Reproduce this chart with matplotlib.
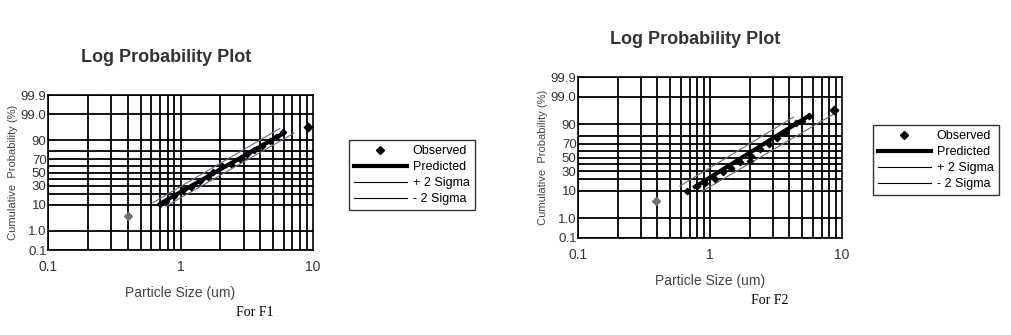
import numpy as np
import matplotlib.pyplot as plt
from statistics import NormalDist
from matplotlib.lines import Line2D

# ---- data (particle size in um, cumulative %) ----
f1_obs_x = [0.70, 0.78, 0.90, 1.05, 1.20, 1.40, 1.60, 1.75, 2.05, 2.40, 2.80, 3.20, 3.60, 4.10, 4.70, 5.30, 5.90]
f1_obs_y = [10.5, 12.5, 17.0, 24.0, 28.5, 36.0, 43.0, 51.0, 60.0, 64.0, 71.0, 77.0, 81.0, 85.5, 89.5, 92.0, 94.5]
f1_out_x = [0.40, 9.2]
f1_out_y = [4.2, 96.5]
f1_pred_x = [0.74, 5.95]
f1_pred_y = [12.0, 94.0]
f1_up_x = [0.62, 5.6]
f1_up_y = [11.5, 96.0]
f1_lo_x = [0.78, 7.2]
f1_lo_y = [9.0, 94.2]

f2_obs_x = [0.67, 0.80, 0.92, 1.09, 1.25, 1.45, 1.70, 2.00, 2.05, 2.40, 2.80, 3.20, 3.70, 4.50, 5.00, 5.60]
f2_obs_y = [10.2, 13.5, 16.5, 21.0, 29.0, 35.0, 43.0, 45.0, 53.0, 63.0, 70.0, 77.5, 83.0, 90.8, 92.0, 94.5]
f2_out_x = [0.39, 8.7]
f2_out_y = [4.6, 96.5]
f2_pred_x = [0.77, 5.6]
f2_pred_y = [13.0, 94.5]
f2_up_x = [0.59, 4.3]
f2_up_y = [13.6, 94.0]
f2_lo_x = [0.86, 8.5]
f2_lo_y = [9.4, 95.0]

prob_ticks = [0.1, 1.0, 10, 30, 50, 70, 90, 99.0, 99.9]
prob_labels = ['0.1', '1.0', '10', '30', '50', '70', '90', '99.0', '99.9']
prob_grid = [0.1, 1, 10, 20, 30, 40, 50, 60, 70, 80, 90, 99, 99.9]
x_ticks = [0.1, 1, 10]
x_labels = ['0.1', '1', '10']

nd = NormalDist()
_fwd = np.vectorize(lambda p: nd.inv_cdf(min(max(p / 100.0, 1e-9), 1 - 1e-9)), otypes=[float])
_inv = np.vectorize(lambda z: nd.cdf(z) * 100.0, otypes=[float])


def forward(p):
    return _fwd(np.asarray(p, dtype=float))


def inverse(z):
    return _inv(np.asarray(z, dtype=float))


FONT = ['Liberation Sans', 'DejaVu Sans']


def draw_panel(fig, rect, obs_x, obs_y, out_x, out_y, pred_x, pred_y, up_x, up_y, lo_x, lo_y):
    ax = fig.add_axes(rect)
    ax.set_xscale('log')
    ax.set_yscale('function', functions=(forward, inverse))
    ax.set_xlim(0.1, 10)
    ax.set_ylim(0.1, 99.9)

    # grid
    for v in np.concatenate([np.arange(0.1, 1.0, 0.1), np.arange(1, 10, 1)]):
        ax.axvline(v, color='black', lw=1.3, zorder=1)
    for p in prob_grid:
        ax.axhline(p, color='black', lw=1.3, zorder=1)

    ax.plot(up_x, up_y, color='#6a6a80', lw=0.8, zorder=2)
    ax.plot(lo_x, lo_y, color='#6a6a80', lw=0.8, zorder=2)
    ax.plot(pred_x, pred_y, color='black', lw=3, zorder=3)
    ax.scatter(obs_x, obs_y, marker='D', s=10, color='black', zorder=4)
    ax.scatter(out_x[:1], out_y[:1], marker='D', s=16, color='#707070', zorder=4)
    ax.scatter(out_x[1:], out_y[1:], marker='D', s=18, color='black', zorder=4)

    ax.set_xticks(x_ticks)
    ax.set_xticklabels(x_labels, family=FONT, fontsize=10, color='#333333')
    ax.xaxis.set_minor_locator(plt.NullLocator())
    ax.set_yticks(prob_ticks)
    ax.set_yticklabels(prob_labels, family=FONT, fontsize=9.5, color='#333333')
    ax.yaxis.set_minor_locator(plt.NullLocator())
    ax.tick_params(axis='x', length=0, pad=7)
    ax.tick_params(axis='y', length=0, pad=1)
    for s in ax.spines.values():
        s.set_color('black')
        s.set_linewidth(1.2)
    ax.set_xlabel('Particle Size (um)', family=FONT, fontsize=10, color='#444444', labelpad=9)
    ax.set_ylabel('Cumulative  Probability (%)', family=FONT, fontsize=8, color='#444444', labelpad=2)
    return ax


def draw_legend(fig, anchor):
    handles = [
        Line2D([], [], marker='D', ms=4, color='black', ls='none'),
        Line2D([], [], color='black', lw=3),
        Line2D([], [], color='black', lw=0.8),
        Line2D([], [], color='black', lw=0.8),
    ]
    labels = ['Observed', 'Predicted', '+ 2 Sigma', '- 2 Sigma']
    leg = fig.legend(handles, labels, loc='upper left', bbox_to_anchor=anchor,
                     prop={'family': FONT, 'size': 9}, frameon=True, fancybox=False,
                     edgecolor='black', handlelength=4.2, handletextpad=0.5,
                     labelspacing=0.32, borderpad=0.4, borderaxespad=0)
    leg.get_frame().set_linewidth(1.0)
    return leg


fig = plt.figure(figsize=(10.11, 3.35), dpi=100)

W, H = 1011.0, 335.0

draw_panel(fig, [48 / W, 1 - 250 / H, 265 / W, 155 / H],
           f1_obs_x, f1_obs_y, f1_out_x, f1_out_y, f1_pred_x, f1_pred_y,
           f1_up_x, f1_up_y, f1_lo_x, f1_lo_y)
draw_panel(fig, [578 / W, 1 - 238 / H, 264 / W, 161 / H],
           f2_obs_x, f2_obs_y, f2_out_x, f2_out_y, f2_pred_x, f2_pred_y,
           f2_up_x, f2_up_y, f2_lo_x, f2_lo_y)

draw_legend(fig, (349 / W, 1 - 140 / H))
draw_legend(fig, (873 / W, 1 - 125 / H))

fig.text(166 / W, 1 - 58 / H, 'Log Probability Plot', ha='center', va='center',
         family=FONT, fontsize=13, fontweight='bold', color='#333333')
fig.text(695 / W, 1 - 40 / H, 'Log Probability Plot', ha='center', va='center',
         family=FONT, fontsize=13, fontweight='bold', color='#333333')

fig.text(255 / W, 1 - 312 / H, 'For F1', ha='center', va='center',
         family=['Liberation Serif', 'DejaVu Serif'], fontsize=10)
fig.text(770 / W, 1 - 300 / H, 'For F2', ha='center', va='center',
         family=['Liberation Serif', 'DejaVu Serif'], fontsize=10)

fig.savefig('out.png', dpi=100)
